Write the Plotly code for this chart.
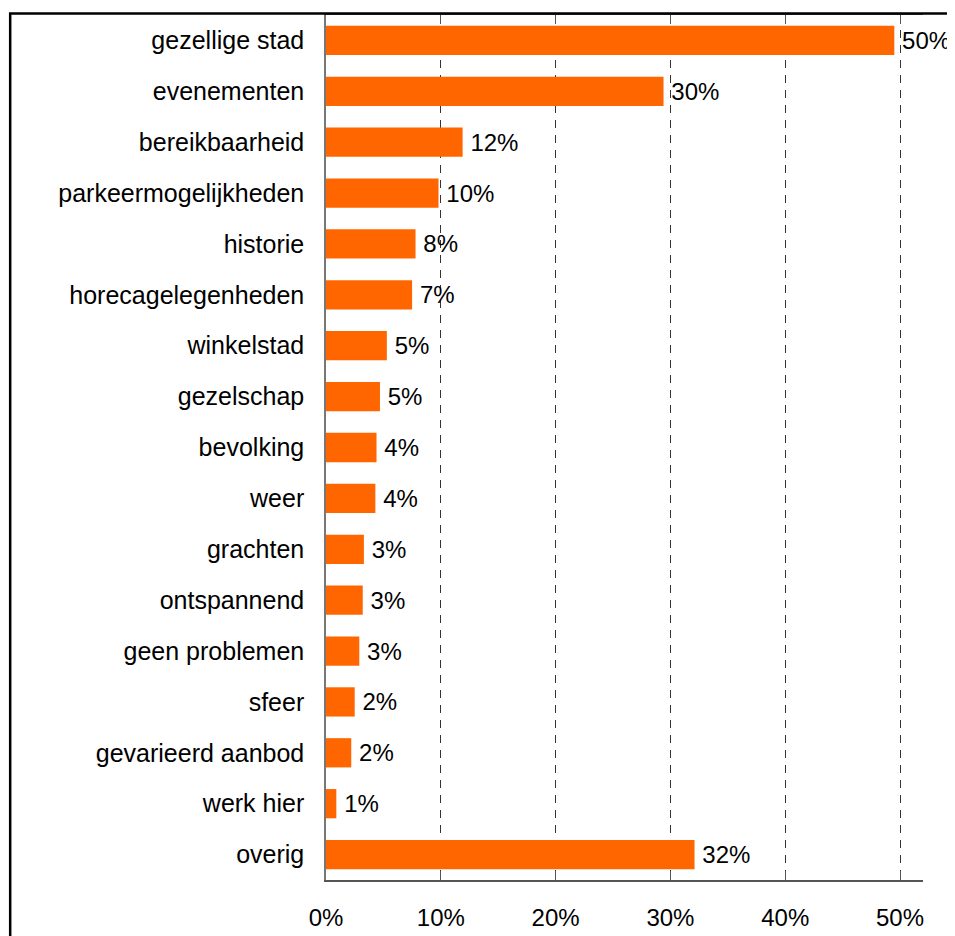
import plotly.graph_objects as go

categories = [
    "gezellige stad", "evenementen", "bereikbaarheid", "parkeermogelijkheden",
    "historie", "horecagelegenheden", "winkelstad", "gezelschap", "bevolking",
    "weer", "grachten", "ontspannend", "geen problemen", "sfeer",
    "gevarieerd aanbod", "werk hier", "overig",
]
values = [49.5, 29.4, 11.9, 9.8, 7.8, 7.5, 5.3, 4.7, 4.4, 4.3, 3.3, 3.2, 2.9, 2.5, 2.2, 0.9, 32.1]
labels = ["50%", "30%", "12%", "10%", "8%", "7%", "5%", "5%", "4%", "4%", "3%", "3%", "3%", "2%", "2%", "1%", "32%"]
x_ticks = [0, 10, 20, 30, 40, 50]
x_tick_labels = ["0%", "10%", "20%", "30%", "40%", "50%"]

FONT = "Liberation Sans, Arial, sans-serif"

fig = go.Figure()
fig.add_trace(go.Bar(
    x=values, y=categories, orientation="h",
    marker=dict(color="#FF6600", line=dict(width=0)),
    text=["\u2009" + t for t in labels], textposition="outside",
    textfont=dict(family=FONT, size=24, color="black"),
    cliponaxis=False, constraintext="none",
))

fig.update_layout(
    width=947, height=928,
    margin=dict(l=318, r=32, t=5, b=54),
    paper_bgcolor="white", plot_bgcolor="white",
    showlegend=False, bargap=0.425,
    font=dict(family=FONT, size=24, color="black"),
    shapes=[dict(type="rect", xref="paper", yref="paper",
                 x0=-0.529, x1=1.3, y0=-0.3, y1=1.0017,
                 line=dict(color="black", width=2.5), fillcolor="rgba(0,0,0,0)", layer="above")],
)
fig.update_xaxes(
    range=[0, 52], tickmode="array", tickvals=x_ticks, ticktext=x_tick_labels,
    showgrid=True, gridcolor="#333333", gridwidth=1, griddash="8px,7px",
    zeroline=False, showline=True, linecolor="#555555", linewidth=1.5,
    ticks="inside", ticklen=9, tickcolor="#555555", mirror="ticks",
    ticklabelstandoff=15,
    tickfont=dict(family=FONT, size=24, color="black"),
)
fig.update_yaxes(
    categoryorder="array", categoryarray=categories, range=[16.5, -0.5],
    showgrid=False, zeroline=False, showline=True, linecolor="#777777", linewidth=1.5,
    ticks="", ticklabelstandoff=15,
    tickfont=dict(family=FONT, size=25, color="black"),
)

fig.write_html("out.html")
